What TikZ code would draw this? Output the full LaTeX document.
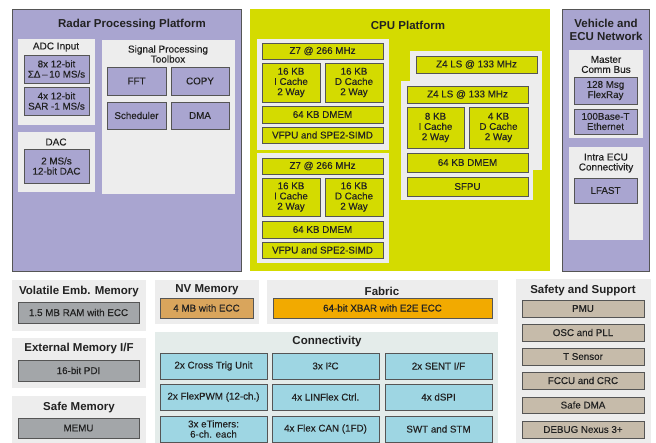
\documentclass[tikz,border=0pt]{standalone}
\usepackage{fontspec}
\setmainfont{Liberation Sans}
\newfontfamily\medfont[FakeBold=0.3]{Liberation Sans}
\definecolor{purp}{RGB}{169,165,208}
\definecolor{yel}{RGB}{212,219,0}
\definecolor{pan}{RGB}{237,237,237}
\definecolor{conpan}{RGB}{228,236,234}
\definecolor{cyanbox}{RGB}{158,214,227}
\definecolor{graybox}{RGB}{163,166,169}
\definecolor{nvbox}{RGB}{217,165,92}
\definecolor{fabbox}{RGB}{242,170,0}
\definecolor{safbox}{RGB}{198,187,170}
\definecolor{bord}{RGB}{85,85,85}
\definecolor{txt}{RGB}{34,34,34}
\newcommand{\rbox}[7]{\node[#6, anchor=north west, minimum width={(#4-#2)*1pt}, minimum height={(#5-#3)*1pt}] (#1) at (#2,#3) {#7};}
\begin{document}
\begin{tikzpicture}[x=1pt,y=-1pt,
  every node/.style={inner sep=0pt, outer sep=0pt, text=txt},
  outer/.style={fill=purp, draw=bord, line width=0.8pt},
  cpu/.style={fill=yel},
  panel/.style={fill=pan},
  cpanel/.style={fill=conpan},
  bx/.style={draw=bord, line width=0.8pt, align=center, font=\medfont\fontsize{9.8}{10.2}\selectfont},
  pbox/.style={bx, fill=purp},
  ybox/.style={bx, fill=yel},
  gbox/.style={bx, fill=graybox},
  nbox/.style={bx, fill=nvbox},
  fbox/.style={bx, fill=fabbox},
  cbox/.style={bx, fill=cyanbox},
  sbox/.style={bx, fill=safbox},
  ttl/.style={align=center, font=\fontsize{11.5}{13}\bfseries\selectfont},
  sttl/.style={align=center, font=\medfont\fontsize{10}{10}\selectfont}
]
\useasboundingbox[fill=white] (0,0) rectangle (656,443);
% Radar
\rbox{radar}{12}{9}{241}{271}{outer}{}
\node[ttl] (radart) at (132,25) {Radar Processing Platform};
\rbox{adcp}{18}{39}{95}{125}{panel}{}
\node[sttl] (adct) at (56,47) {ADC Input};
\rbox{adc1}{24}{55}{89}{83}{pbox}{8x 12-bit\\ΣΔ\,–\,10 MS/s}
\rbox{adc2}{24}{87}{89}{115}{pbox}{4x 12-bit\\SAR -1 MS/s}
\rbox{dacp}{18}{132}{95}{192}{panel}{}
\node[sttl] (dact) at (56,142) {DAC};
\rbox{dac}{24}{149}{89}{183}{pbox}{2 MS/s\\12-bit DAC}
\rbox{spp}{102}{40}{235}{194}{panel}{}
\node[sttl] (spt) at (168,54) {Signal Processing\\Toolbox};
\rbox{fft}{107}{67}{166}{95}{pbox}{FFT}
\rbox{copy}{171}{67}{229}{95}{pbox}{COPY}
\rbox{sched}{107}{102}{166}{129}{pbox}{Scheduler}
\rbox{dma}{171}{102}{229}{129}{pbox}{DMA}
% CPU
\rbox{cpu}{250}{9}{550}{271}{cpu}{}
\node[ttl] (cput) at (408,25) {CPU Platform};
\rbox{z7ap}{257}{39}{389}{150}{panel}{}
\rbox{z7a}{262}{43}{383}{59}{ybox}{Z7 @ 266 MHz}
\rbox{ica}{262}{63}{320}{102}{ybox}{16 KB\\I Cache\\2 Way}
\rbox{dca}{325}{63}{383}{102}{ybox}{16 KB\\D Cache\\2 Way}
\rbox{dmema}{262}{106}{383}{123}{ybox}{64 KB DMEM}
\rbox{vfpua}{262}{127}{383}{143}{ybox}{VFPU and SPE2-SIMD}
\rbox{z7bp}{257}{153}{389}{263}{panel}{}
\rbox{z7b}{262}{158}{383}{174}{ybox}{Z7 @ 266 MHz}
\rbox{icb}{262}{178}{320}{216}{ybox}{16 KB\\I Cache\\2 Way}
\rbox{dcb}{325}{178}{383}{216}{ybox}{16 KB\\D Cache\\2 Way}
\rbox{dmemb}{262}{221}{383}{238}{ybox}{64 KB DMEM}
\rbox{vfpub}{262}{242}{383}{258}{ybox}{VFPU and SPE2-SIMD}
\rbox{z4ap}{410}{51}{542}{170}{panel}{}
\rbox{z4a}{416}{56}{537}{73}{ybox}{Z4 LS @ 133 MHz}
\rbox{z4bp}{401}{81}{533}{200}{panel}{}
\rbox{z4b}{407}{86}{528}{103}{ybox}{Z4 LS @ 133 MHz}
\rbox{icc}{407}{107}{464}{148}{ybox}{8 KB\\I Cache\\2 Way}
\rbox{dcc}{469}{107}{528}{148}{ybox}{4 KB\\D Cache\\2 Way}
\rbox{dmemc}{407}{153}{528}{172}{ybox}{64 KB DMEM}
\rbox{sfpu}{407}{177}{528}{196}{ybox}{SFPU}
% Vehicle
\rbox{veh}{562}{9}{649}{271}{outer}{}
\node[ttl] (veht) at (606,30) {Vehicle and\\ECU Network};
\rbox{mp}{569}{50}{643}{138}{panel}{}
\node[sttl] (mt) at (606,64.5) {Master\\Comm Bus};
\rbox{fr}{574}{77}{637}{104}{pbox}{128 Msg\\FlexRay}
\rbox{eth}{574}{109}{637}{134}{pbox}{100Base-T\\Ethernet}
\rbox{ip}{569}{147}{643}{240}{panel}{}
\node[sttl] (it) at (606,163) {Intra ECU\\Connectivity};
\rbox{lfast}{574}{178}{637}{203}{pbox}{LFAST}
% Lower left
\rbox{volp}{12}{280}{146}{331}{panel}{}
\node[ttl] (volt) at (79,292) {Volatile Emb. Memory};
\rbox{ram}{18}{302}{139}{323}{gbox}{1.5 MB RAM with ECC}
\rbox{extp}{12}{338}{146}{388}{panel}{}
\node[ttl] (extt) at (79,349) {External Memory I/F};
\rbox{pdi}{18}{360}{139}{381}{gbox}{16-bit PDI}
\rbox{safp}{12}{396}{146}{443}{panel}{}
\node[ttl] (saft) at (79,408) {Safe Memory};
\rbox{memu}{18}{418}{139}{438}{gbox}{MEMU}
% NV and Fabric
\rbox{nvp}{155}{280}{259}{324}{panel}{}
\node[ttl] (nvt) at (207,290) {NV Memory};
\rbox{nv}{160}{298}{253}{318}{nbox}{4 MB with ECC}
\rbox{fabp}{267}{280}{498}{324}{panel}{}
\node[ttl] (fabt) at (382,291) {Fabric};
\rbox{xbar}{273}{298}{492}{318}{fbox}{64-bit XBAR with E2E ECC}
% Connectivity
\rbox{conp}{155}{332}{498}{443}{cpanel}{}
\node[ttl] (cont) at (327,342) {Connectivity};
\rbox{c11}{160}{353}{267}{379}{cbox}{2x Cross Trig Unit}
\rbox{c12}{272}{353}{379}{379}{cbox}{3x I²C}
\rbox{c13}{385}{353}{492}{379}{cbox}{2x SENT I/F}
\rbox{c21}{160}{384}{267}{410}{cbox}{2x FlexPWM (12-ch.)}
\rbox{c22}{272}{384}{379}{410}{cbox}{4x LINFlex Ctrl.}
\rbox{c23}{385}{384}{492}{410}{cbox}{4x dSPI}
\rbox{c31}{160}{416}{267}{442}{cbox}{3x eTimers:\\6-ch. each}
\rbox{c32}{272}{416}{379}{442}{cbox}{4x Flex CAN (1FD)}
\rbox{c33}{385}{416}{492}{442}{cbox}{SWT and STM}
% Safety
\rbox{sp}{516}{279}{651}{443}{panel}{}
\node[ttl] (st) at (583,291) {Safety and Support};
\rbox{pmu}{522}{300}{644}{317}{sbox}{PMU}
\rbox{osc}{522}{324}{644}{341}{sbox}{OSC and PLL}
\rbox{tsen}{522}{348}{644}{365}{sbox}{T Sensor}
\rbox{fccu}{522}{372}{644}{389}{sbox}{FCCU and CRC}
\rbox{sdma}{522}{397}{644}{413}{sbox}{Safe DMA}
\rbox{dbg}{522}{421}{644}{438}{sbox}{DEBUG Nexus 3+}
\end{tikzpicture}
\end{document}
